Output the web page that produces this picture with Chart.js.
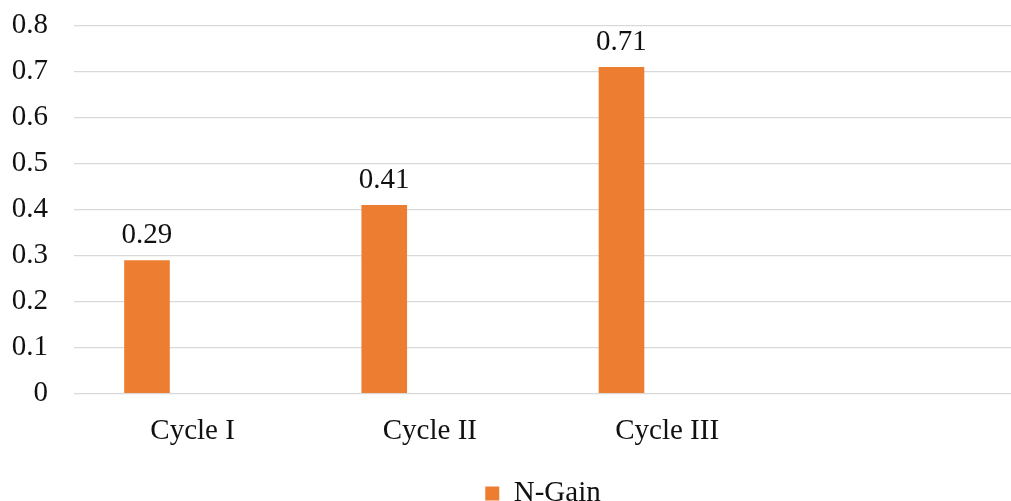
<!DOCTYPE html>
<html>
<head>
<meta charset="utf-8">
<script src="https://cdn.jsdelivr.net/npm/chart.js@4.4.1/dist/chart.umd.min.js"></script>
<style>
  html, body { margin: 0; padding: 0; background: #fff; overflow: hidden; }
  #wrap { width: 1100px; height: 501px; }
</style>
</head>
<body>
<div id="wrap"><canvas id="chart" width="1100" height="501"></canvas></div>
<script>
// categories (the 4th slot is empty in the original chart)
const categories = ["Cycle I", "Cycle II", "Cycle III", ""];
// N-Gain per cycle
const nGain = [0.29, 0.41, 0.71, null];
// two empty series - they are what push the orange bars left of the label
const emptySeriesA = [null, null, null, null];
const emptySeriesB = [null, null, null, null];
// y axis range
const yMin = 0;
const yMax = 0.8;
const yStep = 0.1;

const textColor = "#111111";
const serif = { family: "'Liberation Serif', 'Times New Roman', serif", size: 29 };
const barWidthShare = 0.577;

// value above each bar
const valueLabels = {
  id: "valueLabels",
  afterDatasetsDraw(chart) {
    const ctx = chart.ctx;
    const meta = chart.getDatasetMeta(0);
    ctx.save();
    ctx.font = serif.size + "px " + serif.family;
    ctx.fillStyle = textColor;
    ctx.textAlign = "center";
    ctx.textBaseline = "alphabetic";
    meta.data.forEach((bar, i) => {
      const v = nGain[i];
      if (v == null) return;
      ctx.fillText(v.toFixed(2), bar.x, bar.y - 17);
    });
    ctx.restore();
  }
};

// legend is centred on the whole (uncropped) chart and sits lower than chart.js puts it
const legendPlace = {
  id: "legendPlace",
  afterLayout(chart) {
    const lg = chart.legend;
    lg.left = 0;
    lg.right = 1086;
    lg.top += 17;
    lg.bottom += 17;
  }
};

new Chart(document.getElementById("chart"), {
  type: "bar",
  plugins: [valueLabels, legendPlace],
  data: {
    labels: categories,
    datasets: [
      { label: "N-Gain", data: nGain, backgroundColor: "#ED7D31",
        categoryPercentage: barWidthShare, barPercentage: 1 },
      { label: "", data: emptySeriesA, backgroundColor: "#A5A5A5",
        categoryPercentage: barWidthShare, barPercentage: 1 },
      { label: "", data: emptySeriesB, backgroundColor: "#FFC000",
        categoryPercentage: barWidthShare, barPercentage: 1 }
    ]
  },
  options: {
    responsive: false,
    animation: false,
    events: [],
    layout: { padding: { left: 0, right: 77, top: 25.7, bottom: 0 } },
    plugins: {
      tooltip: { enabled: false },
      legend: {
        position: "bottom",
        labels: {
          filter: item => item.text !== "",
          boxWidth: 14,
          boxHeight: 14,
          color: textColor,
          font: serif,
          padding: 4
        }
      }
    },
    scales: {
      x: {
        grid: { display: false, drawTicks: false },
        border: { display: false },
        ticks: { color: textColor, font: serif, padding: 20, maxRotation: 0 },
        afterFit(scale) { scale.height -= 10.5; }
      },
      y: {
        min: yMin,
        max: yMax,
        grid: { color: "#d9d9d9", lineWidth: 1.3, drawTicks: false },
        border: { display: false },
        ticks: {
          stepSize: yStep,
          padding: 26,
          color: textColor,
          font: serif,
          callback: v => (v === 0 ? "0" : v.toFixed(1))
        },
        afterFit(scale) {
          scale.width = 74;
          scale.paddingTop = 0;
          scale.paddingBottom = 0;
        }
      }
    }
  }
});
</script>
</body>
</html>
